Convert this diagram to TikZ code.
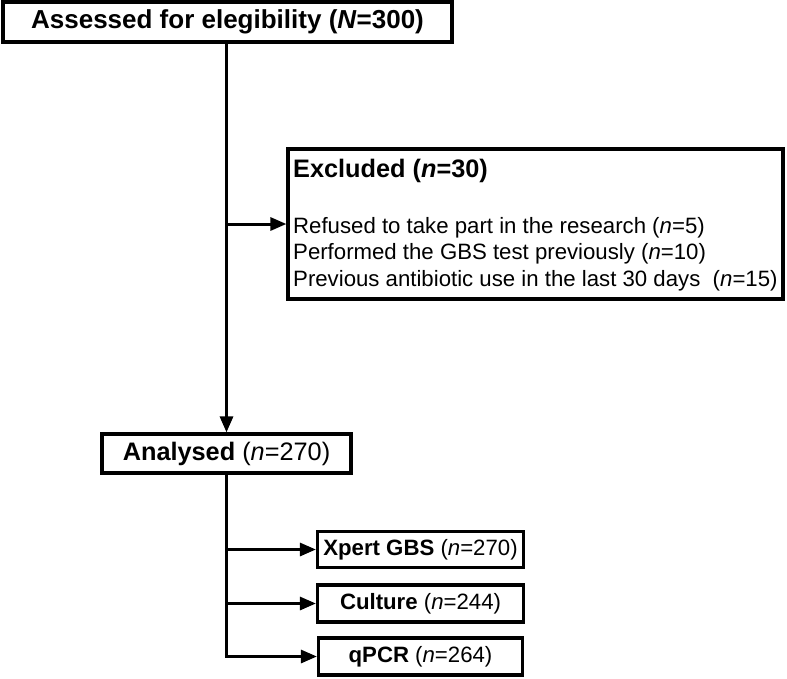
\documentclass[tikz,border=0pt]{standalone}
\usepackage{fontspec}
\setmainfont{Liberation Sans}
\usetikzlibrary{arrows.meta}
\tikzset{
  box/.style={draw=black, line width=3.2pt, fill=white, inner sep=0pt, align=center},
  conn/.style={line width=3pt, draw=black},
  arr/.style={conn, -{Triangle[length=16pt,width=13pt]}},
  big/.style={font=\fontsize{25.3}{30}\selectfont},
  mid/.style={font=\fontsize{22.2}{26.6}\selectfont},
}
\begin{document}
\begin{tikzpicture}[x=1pt,y=-1pt]
\useasboundingbox (0,0) rectangle (787,678);
% top box
\node[box, minimum width=449pt, minimum height=40pt, font=\fontsize{26}{30}\selectfont\bfseries] (assess) at (227.5,22) {Assessed for elegibility (\textit{N}=300)};
% excluded box
\node[box, minimum width=495pt, minimum height=150pt] (excl) at (535.5,224) {};
\node[anchor=west, inner sep=0pt, font=\fontsize{25.3}{30}\selectfont\bfseries] (excltitle) at (293,171) {Excluded (\textit{n}=30)};
\node[anchor=west, inner sep=0pt, mid, align=left] (excllist) at (293,254) {Refused to take part in the research (\textit{n}=5)\\Performed the GBS test previously (\textit{n}=10)\\Previous antibiotic use in the last 30 days\ \ (\textit{n}=15)};
% analysed
\node[box, minimum width=249pt, minimum height=39pt, big] (anal) at (226.5,453.5) {\textbf{Analysed} (\textit{n}=270)};
% tests
\node[box, minimum width=206pt, minimum height=36pt, mid] (xpert) at (420.5,549.5) {\textbf{Xpert GBS} (\textit{n}=270)};
\node[box, minimum width=206pt, minimum height=37pt, mid] (cult) at (420.5,603.5) {\textbf{Culture} (\textit{n}=244)};
\node[box, minimum width=204pt, minimum height=37pt, mid] (qpcr) at (420.5,656.5) {\textbf{qPCR} (\textit{n}=264)};
% connectors
\draw[arr] (assess.south -| anal.north) -- (anal.north);
\coordinate (j1) at (anal.north |- excl.west);
\draw[arr] (j1) -- (excl.west);
\draw[arr] (anal.south) |- (qpcr.west);
\coordinate (j2) at (anal.south |- xpert.west);
\coordinate (j3) at (anal.south |- cult.west);
\draw[arr] (j2) -- (xpert.west);
\draw[arr] (j3) -- (cult.west);
\end{tikzpicture}
\end{document}
